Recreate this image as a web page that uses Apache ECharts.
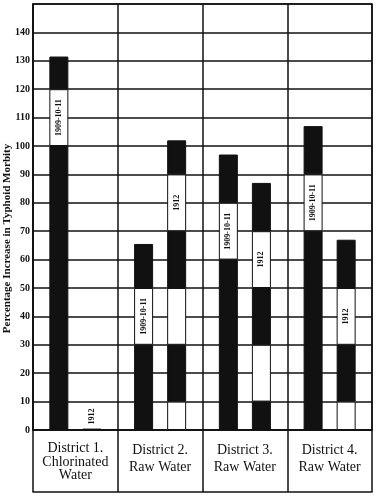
<!DOCTYPE html>
<html>
<head>
<meta charset="utf-8">
<script src="https://cdn.jsdelivr.net/npm/echarts@6/dist/echarts.min.js"></script>
<style>
html,body{margin:0;padding:0;background:#fff;}
#chart{width:377px;height:500px;}
</style>
</head>
<body>
<div id="chart"></div>
<script>
// ---- data ----
const categories = ['District 1.\nChlorinated\nWater', 'District 2.\nRaw Water', 'District 3.\nRaw Water', 'District 4.\nRaw Water'];
const periodNames = ['1909-10-11', '1912'];
// cumulative segment tops for each bar (alternating black / white bands)
const tops1909 = [[100, 120, 131.5], [30, 50, 65.5], [60, 80, 97], [70, 90, 107]];
const fill1909 = [['k', 'w', 'k'], ['k', 'w', 'k'], ['k', 'w', 'k'], ['k', 'w', 'k']];
const labelSeg1909 = [1, 1, 1, 1];
const tops1912 = [[0.5], [10, 30, 50, 70, 90, 102], [10, 30, 50, 70, 87], [10, 30, 50, 67]];
const fill1912 = [['k'], ['w', 'k', 'w', 'k', 'w', 'k'], ['k', 'w', 'k', 'w', 'k'], ['w', 'k', 'w', 'k']];
const labelSeg1912 = [0, 4, 3, 2];
const yTicks = [0, 10, 20, 30, 40, 50, 60, 70, 80, 90, 100, 110, 120, 130, 140];
const yTitle = 'Percentage Increase in Typhoid Morbity';

// ---- build ----
const INK = '#111';
const SERIF = '"Liberation Serif", "DejaVu Serif", serif';

function buildSeries(tops, fills, labelSeg, stack, name) {
  const maxSeg = Math.max(...tops.map(t => t.length));
  const out = [];
  for (let s = 0; s < maxSeg; s++) {
    const data = categories.map((c, i) => {
      const t = tops[i];
      if (s >= t.length) return '-';
      const len = t[s] - (s === 0 ? 0 : t[s - 1]);
      const item = {
        value: len,
        itemStyle: { color: fills[i][s] === 'k' ? INK : '#fff' }
      };
      if (labelSeg[i] === s) {
        const tiny = len < 3;
        item.label = {
          show: true,
          formatter: name,
          rotate: 90,
          position: tiny ? 'top' : 'inside',
          align: tiny ? 'left' : 'center',
          verticalAlign: 'middle',
          distance: 4,
          color: INK,
          fontFamily: SERIF,
          fontWeight: 'bold',
          fontSize: 8
        };
      }
      return item;
    });
    out.push({
      type: 'bar',
      name: name,
      stack: stack,
      barWidth: 19,
      barGap: '74%',
      data: data,
      itemStyle: { borderColor: INK, borderWidth: 1 },
      emphasis: { disabled: true },
      animation: false
    });
  }
  return out;
}

const series = [].concat(
  buildSeries(tops1909, fill1909, labelSeg1909, 'a', periodNames[0]),
  buildSeries(tops1912, fill1912, labelSeg1912, 'b', periodNames[1])
);

const chart = echarts.init(document.getElementById('chart'), null, { renderer: 'canvas' });
chart.setOption({
  backgroundColor: '#fff',
  animation: false,
  grid: {
    left: 33, right: 5, top: 4, bottom: 70,
    containLabel: false,
    outerBoundsMode: 'none',
    show: true, borderColor: INK, borderWidth: 1.5, backgroundColor: 'transparent'
  },
  xAxis: [{
    type: 'category',
    data: categories,
    boundaryGap: true,
    axisLine: { show: true, lineStyle: { color: INK, width: 1.5 } },
    axisTick: { show: true, inside: false, length: 62, interval: 0, alignWithLabel: false,
                lineStyle: { color: INK, width: 1.5 } },
    splitLine: { show: true, interval: 0, lineStyle: { color: INK, width: 1.5 } },
    axisLabel: {
      interval: 0,
      margin: 12,
      formatter: function (v) {
        const lines = v.split('\n');
        const st = lines.length > 2 ? 'a' : 'b';
        return lines.map(l => '{' + st + '|' + l + '}').join('\n');
      },
      rich: {
        a: { fontFamily: SERIF, fontSize: 14, lineHeight: 13.5, color: INK, align: 'center' },
        b: { fontFamily: SERIF, fontSize: 14, lineHeight: 17, color: INK, align: 'center' }
      }
    }
  }, {
    type: 'category',
    data: categories,
    position: 'bottom',
    offset: 62,
    axisLine: { show: true, lineStyle: { color: INK, width: 1.5 } },
    axisTick: { show: false },
    axisLabel: { show: false },
    splitLine: { show: false }
  }],
  yAxis: {
    type: 'value',
    min: 0,
    max: 150,
    interval: 10,
    name: yTitle,
    nameLocation: 'middle',
    nameGap: 20,
    nameMoveOverlap: false,
    nameRotate: 90,
    nameTextStyle: { fontFamily: SERIF, fontWeight: 'bold', fontSize: 11, color: INK, padding: [0, 43, 0, 0] },
    axisLine: { show: true, lineStyle: { color: INK, width: 1.5 } },
    axisTick: { show: false },
    axisLabel: {
      margin: 3,
      fontFamily: SERIF, fontWeight: 'bold', fontSize: 10, color: INK,
      formatter: function (v) { return yTicks.indexOf(v) >= 0 ? String(v) : ''; }
    },
    splitLine: { show: true, lineStyle: { color: INK, width: 1.5 } }
  },
  series: series
});
</script>
</body>
</html>
